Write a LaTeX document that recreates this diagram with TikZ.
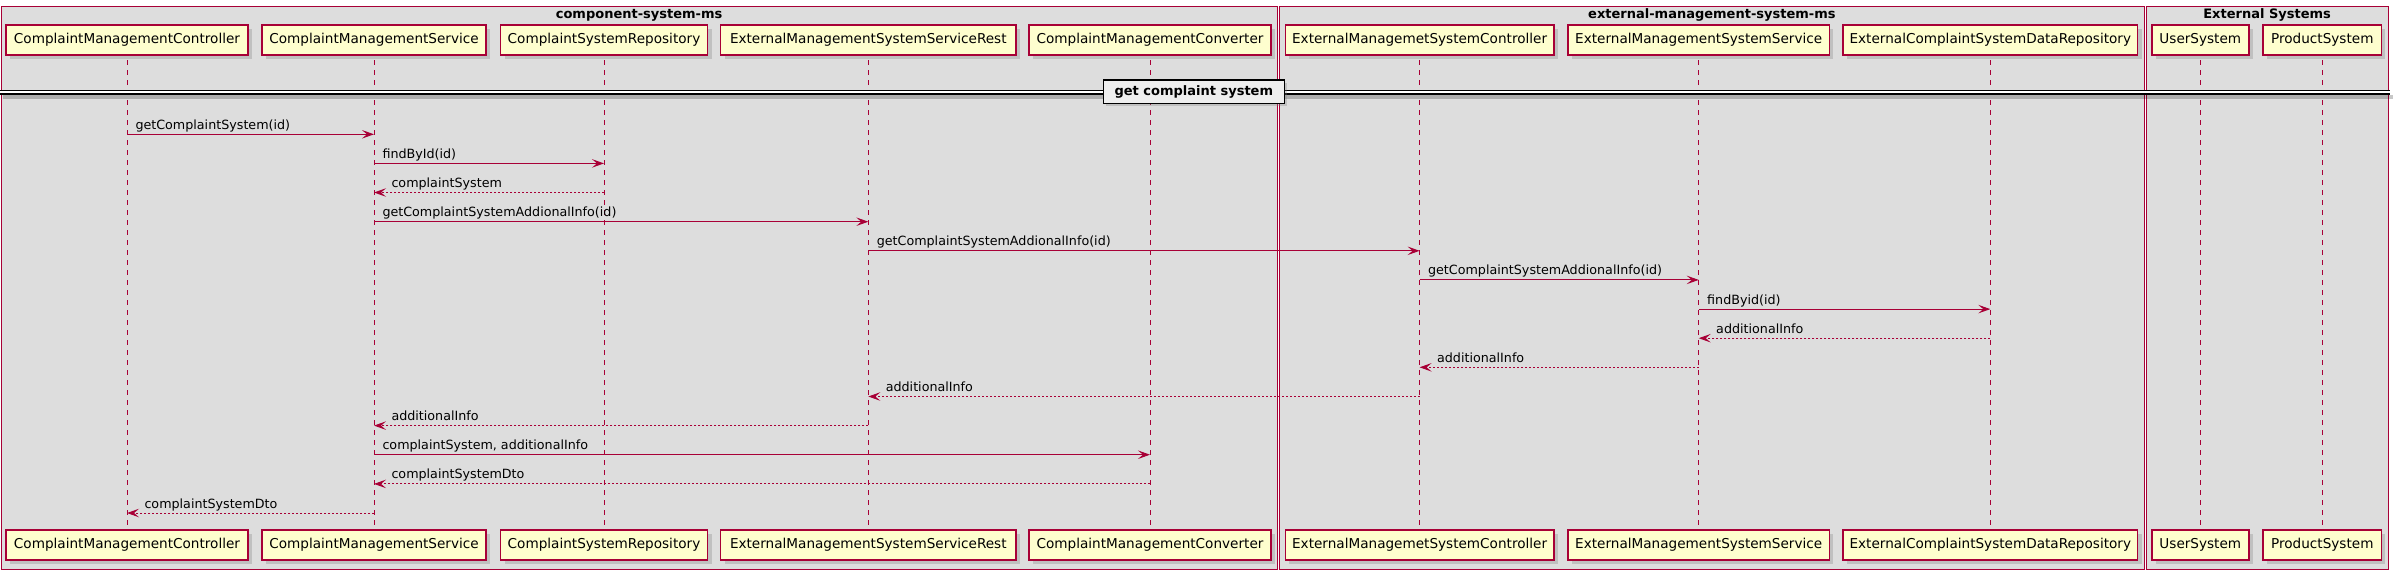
\documentclass[tikz,border=0pt]{standalone}
\usepackage{fontspec}
\setmainfont{DejaVu Sans}
\usetikzlibrary{arrows.meta,shadows}
\definecolor{umlred}{HTML}{A80036}
\definecolor{umlbox}{HTML}{FEFECE}
\definecolor{umlgroup}{HTML}{DDDDDD}
\definecolor{umldiv}{HTML}{EEEEEE}
\newcommand\callmsg[5]{%
  \path (0,#4) coordinate (#1row);
  \draw[callarrow] (#2 |- #1row) -- (#3 |- #1row)
    node[msglabel, pos=0, anchor=base west, xshift=8pt, yshift=5pt] (#1) {#5};
}
\newcommand\retmsg[5]{%
  \path (0,#4) coordinate (#1row);
  \draw[retarrow] (#2 |- #1row) -- (#3 |- #1row)
    node[msglabel, pos=1, anchor=base west, xshift=17pt, yshift=5pt] (#1) {#5};
}
\begin{document}
\begin{tikzpicture}[x=1pt,y=-1pt,
  participant/.style={draw=umlred, line width=1.5pt, fill=umlbox, minimum height=30pt,
    inner sep=0pt, text height=10pt, text depth=2.5pt,
    font=\fontsize{13.6}{16}\selectfont,
    drop shadow={shadow xshift=4pt, shadow yshift=-4pt, opacity=0.3}},
  lifeline/.style={draw=umlred, line width=0.9pt, dash pattern=on 5pt off 5pt},
  groupbox/.style={draw=umlred, line width=1pt, fill=umlgroup},
  grouptitle/.style={font=\bfseries\fontsize{13}{15}\selectfont, anchor=base, inner sep=0pt},
  callarrow/.style={draw=umlred, line width=1pt, -{Stealth[length=12pt,width=8.5pt,inset=5pt]}},
  retarrow/.style={callarrow, dash pattern=on 2pt off 2pt},
  msglabel/.style={font=\fontsize{12.7}{15}\selectfont, inner sep=0pt, text=black},
  divbox/.style={draw=black, line width=1.5pt, fill=umldiv, minimum width=181pt, minimum height=23.3pt,
    inner sep=0pt, font=\bfseries\fontsize{13}{15}\selectfont,
    drop shadow={shadow xshift=3pt, shadow yshift=-3pt, opacity=0.3}},
]
\useasboundingbox (0,0) rectangle (2395,574);
\fill[white] (0,0) rectangle (2395,574);

% groups
\path[groupbox] (1,6.7) rectangle (1277.2,569.3);
\path[groupbox] (1279.5,6.7) rectangle (2144.3,569.3);
\path[groupbox] (2146,6.7) rectangle (2388.3,569.3);
\node[grouptitle] (g1) at (639.1,18) {component-system-ms};
\node[grouptitle] (g2) at (1711.9,18) {external-management-system-ms};
\node[grouptitle] (g3) at (2267.1,18) {External Systems};

% participants (top and bottom)
\foreach \n/\x/\w/\t in {
  cmc/127/242/ComplaintManagementController,
  cms/374/224/ComplaintManagementService,
  csr/604/207/ComplaintSystemRepository,
  emr/868.3/295.5/ExternalManagementSystemServiceRest,
  cnv/1150/242.4/ComplaintManagementConverter,
  emc/1419.6/268.7/ExternalManagemetSystemController,
  ems/1698.7/261.2/ExternalManagementSystemService,
  ecr/1990.3/294.5/ExternalComplaintSystemDataRepository,
  usr/2200.3/97/UserSystem,
  prd/2322.3/118.3/ProductSystem}{
  \path (\x,40) coordinate (\n);
  \path (\x,545) coordinate (\n b);
  \draw[lifeline] (\n) -- (\n b);
  \node[participant, minimum width=\w pt] (\n top) at (\n) {\t};
  \node[participant, minimum width=\w pt] (\n bot) at (\n b) {\t};
}

% divider
\fill[black, opacity=0.22] (3,94.5) rectangle (2393,98.5);
\fill[white] (0,90.5) rectangle (2390,94);
\draw[line width=1.2pt] (0,90.5) -- (2390,90.5) (0,94) -- (2390,94);
\node[divbox] (div) at (1193.8,91.7) {get complaint system};

% messages
\callmsg{m1}{cmc}{cms}{134.3}{getComplaintSystem(id)}
\callmsg{m2}{cms}{csr}{163.4}{findById(id)}
\retmsg{m3}{csr}{cms}{192.5}{complaintSystem}
\callmsg{m4}{cms}{emr}{221.7}{getComplaintSystemAddionalInfo(id)}
\callmsg{m5}{emr}{emc}{250.8}{getComplaintSystemAddionalInfo(id)}
\callmsg{m6}{emc}{ems}{279.9}{getComplaintSystemAddionalInfo(id)}
\callmsg{m7}{ems}{ecr}{309.1}{findByid(id)}
\retmsg{m8}{ecr}{ems}{338.2}{additionalInfo}
\retmsg{m9}{ems}{emc}{367.3}{additionalInfo}
\retmsg{m10}{emc}{emr}{396.5}{additionalInfo}
\retmsg{m11}{emr}{cms}{425.6}{additionalInfo}
\callmsg{m12}{cms}{cnv}{454.7}{complaintSystem, additionalInfo}
\retmsg{m13}{cnv}{cms}{483.9}{complaintSystemDto}
\retmsg{m14}{cms}{cmc}{513}{complaintSystemDto}
\end{tikzpicture}
\end{document}
